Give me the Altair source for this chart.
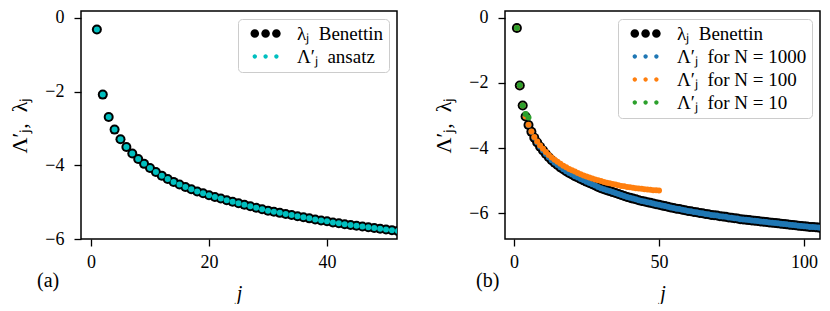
import altair as alt
import pandas as pd

FONT = "Liberation Serif"

# ---------------- data ----------------
j_vals = list(range(1, 107))

benettin = [
    -0.31, -2.08, -2.69, -3.03, -3.29, -3.50, -3.68, -3.83, -3.96, -4.07,
    -4.18, -4.28, -4.37, -4.45, -4.52, -4.59, -4.65, -4.71, -4.76, -4.81,
    -4.86, -4.90, -4.95, -4.99, -5.03, -5.07, -5.11, -5.15, -5.19, -5.23,
    -5.26, -5.29, -5.32, -5.35, -5.38, -5.41, -5.44, -5.47, -5.50, -5.52,
    -5.55, -5.57, -5.60, -5.62, -5.64, -5.66, -5.68, -5.70, -5.72, -5.74,
    -5.76, -5.78, -5.80, -5.82, -5.84, -5.86, -5.87, -5.89, -5.91, -5.93,
    -5.94, -5.96, -5.97, -5.99, -6.00, -6.02, -6.03, -6.05, -6.06, -6.07,
    -6.09, -6.10, -6.11, -6.13, -6.14, -6.15, -6.16, -6.18, -6.19, -6.20,
    -6.21, -6.22, -6.23, -6.24, -6.25, -6.26, -6.27, -6.28, -6.29, -6.30,
    -6.31, -6.32, -6.33, -6.34, -6.35, -6.36, -6.37, -6.38, -6.39, -6.40,
    -6.41, -6.42, -6.42, -6.43, -6.44, -6.45,
]

# panel (a): ansatz lies on top of the Benettin exponents
ansatz_a = list(benettin[:53])

# panel (b)
lam_N1000 = list(benettin)
lam_N100 = [
    -0.31, -2.08, -2.69, -3.03, -3.28, -3.49, -3.66, -3.80, -3.92, -4.02,
    -4.12, -4.21, -4.29, -4.36, -4.42, -4.48, -4.54, -4.59, -4.64, -4.68,
    -4.72, -4.76, -4.80, -4.84, -4.87, -4.90, -4.93, -4.96, -4.99, -5.01,
    -5.04, -5.06, -5.08, -5.10, -5.12, -5.14, -5.16, -5.17, -5.19, -5.20,
    -5.22, -5.23, -5.24, -5.25, -5.26, -5.27, -5.28, -5.29, -5.29, -5.30,
]
lam_N10 = [-0.31, -2.07, -2.69, -2.95, -3.06]

SP = "\u00a0\u00a0"
labels_a = [f"λⱼ{SP}Benettin", f"Λ′ⱼ{SP}ansatz"]
colors_a = ["black", "#00bfbf"]
labels_b = [f"λⱼ{SP}Benettin", f"Λ′ⱼ{SP}for N = 1000", f"Λ′ⱼ{SP}for N = 100", f"Λ′ⱼ{SP}for N = 10"]
colors_b = ["black", "#1f77b4", "#ff7f0e", "#2ca02c"]

x_ticks_a = [0, 20, 40]
x_ticks_b = [0, 50, 100]
y_ticks = [-6, -4, -2, 0]
Y_TITLE = "Λ′ⱼ,\u00a0\u00a0λⱼ"


# ---------------- helpers ----------------
def three_dots(r):
    # legend glyph: three dots (units: 2 px each at symbolSize 16)
    parts = []
    for cx in (1.15, 6.55, 11.95):
        parts.append(f"M{cx - r},0A{r},{r} 0 1,0 {cx + r},0A{r},{r} 0 1,0 {cx - r},0Z")
    return " ".join(parts)


BIG = 100
SMALL = 36


def points(jj, vals, color, size, xs, ys, xt, yt):
    df = pd.DataFrame({"j": jj[: len(vals)], "v": vals})
    return alt.Chart(df).mark_circle(size=size, color=color, opacity=1, clip=True).encode(
        x=alt.X("j:Q", scale=xs, axis=alt.Axis(values=xt, title="j", format="d")),
        y=alt.Y("v:Q", scale=ys, axis=alt.Axis(values=yt, title=Y_TITLE, format="d")),
    )


def legend_layer(labels, colors):
    # invisible carrier marks (kept inside the plot) that only feed the legend
    df = pd.DataFrame({"series": labels})
    paths = [three_dots(2.15)] + [three_dots(1.1)] * (len(labels) - 1)
    leg = alt.Legend(
        title=None, orient="top-right", offset=8,
        fillColor="rgba(255,255,255,0.85)", strokeColor="#cccccc", cornerRadius=4,
        padding=5, labelFont=FONT, labelFontSize=19, labelColor="black",
        labelOffset=35, rowPadding=3, symbolSize=16, symbolStrokeWidth=0,
        symbolOpacity=1, labelLimit=300,
    )
    return alt.Chart(df).mark_point(filled=True, opacity=0, size=16, clip=True).encode(
        x=alt.value(60), y=alt.value(60),
        color=alt.Color("series:N", scale=alt.Scale(domain=labels, range=colors), legend=leg),
        shape=alt.Shape("series:N", scale=alt.Scale(domain=labels, range=paths), legend=leg),
    )


def panel_title(txt, dx):
    return alt.TitleParams(
        text=txt, orient="bottom", anchor="start", frame="group", dx=dx, dy=-32,
        offset=0, font=FONT, fontSize=20, fontWeight="normal", color="black",
    )


H = 228

# ---------------- panel (a) ----------------
xs_a = alt.Scale(domain=[-1.69, 51.86], nice=False, zero=False)
ys_a = alt.Scale(domain=[-6.0, 0.19], nice=False, zero=False)
left = alt.layer(
    points(j_vals, benettin[:53], "black", BIG, xs_a, ys_a, x_ticks_a, y_ticks),
    points(j_vals, ansatz_a, colors_a[1], SMALL, xs_a, ys_a, x_ticks_a, y_ticks),
    legend_layer(labels_a, colors_a),
).properties(width=316, height=H, title=panel_title("(a)", -44))

# ---------------- panel (b) ----------------
xs_b = alt.Scale(domain=[-3.1, 105.5], nice=False, zero=False)
ys_b = alt.Scale(domain=[-6.79, 0.21], nice=False, zero=False)
right = alt.layer(
    points(j_vals, benettin, "black", BIG, xs_b, ys_b, x_ticks_b, y_ticks),
    points(j_vals, lam_N1000, colors_b[1], SMALL, xs_b, ys_b, x_ticks_b, y_ticks),
    points(j_vals, lam_N100, colors_b[2], SMALL, xs_b, ys_b, x_ticks_b, y_ticks),
    points(j_vals, lam_N10, colors_b[3], SMALL, xs_b, ys_b, x_ticks_b, y_ticks),
    legend_layer(labels_b, colors_b),
).properties(width=315, height=H, title=panel_title("(b)", -29))

chart = (
    alt.hconcat(left, right, spacing=34)
    .resolve_scale(x="independent", y="independent", color="independent", shape="independent")
    .resolve_legend(color="independent", shape="independent")
    .properties(padding={"left": 0, "top": 0, "right": 0, "bottom": 0})
    .configure_view(stroke="black", strokeWidth=1.5)
    .configure_axis(
        domain=False, grid=False, ticks=True, tickColor="black", tickWidth=1.3, tickSize=7,
        labelFont=FONT, labelFontSize=18, labelColor="black",
        titleFont=FONT, titleFontSize=20, titleColor="black", titleFontWeight="normal",
    )
    .configure_axisX(labelPadding=7, titlePadding=12, titleFontStyle="italic")
    .configure_axisY(labelPadding=10, titlePadding=13, titleFontSize=22)
)

chart.save("out.html", embed_options={"renderer": "svg", "actions": False})
